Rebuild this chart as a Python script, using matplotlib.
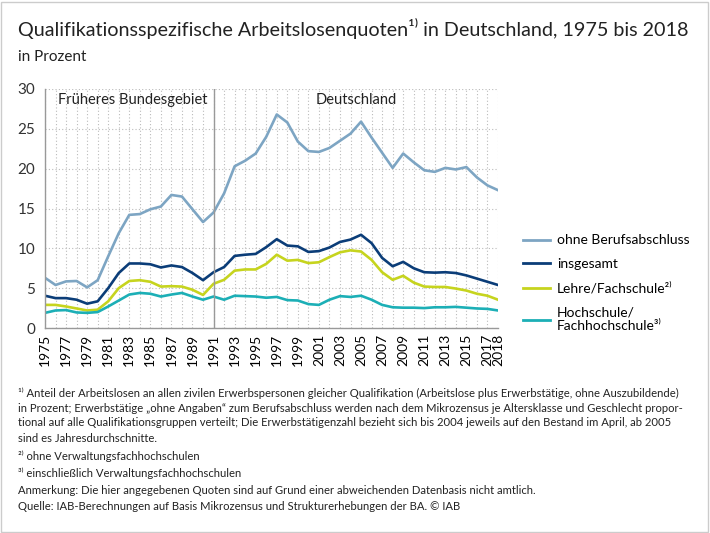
import matplotlib
matplotlib.use("Agg")
import matplotlib.pyplot as plt
from matplotlib.patches import Rectangle

years = list(range(1975, 2019))

ohne_abschluss = [6.3, 5.4, 5.85, 5.9, 5.1, 6.0, 9.0, 11.9, 14.2, 14.3, 14.9, 15.25,
                  16.7, 16.5, 14.9, 13.3, 14.5, 16.9, 20.3, 21.0, 21.9, 24.0, 26.8,
                  25.8, 23.4, 22.2, 22.1, 22.6, 23.5, 24.4, 25.9, 23.9, 22.0, 20.1,
                  21.9, 20.8, 19.8, 19.6, 20.1, 19.9, 20.2, 18.9, 17.9, 17.3]
insgesamt = [4.05, 3.75, 3.75, 3.55, 3.05, 3.35, 5.0, 6.9, 8.1, 8.1, 8.0, 7.6,
             7.85, 7.65, 6.9, 6.0, 7.0, 7.65, 9.05, 9.2, 9.3, 10.15, 11.15,
             10.35, 10.25, 9.55, 9.65, 10.1, 10.8, 11.1, 11.7, 10.65, 8.8, 7.75,
             8.3, 7.5, 7.0, 6.95, 7.0, 6.9, 6.6, 6.2, 5.8, 5.4]
lehre = [2.9, 2.9, 2.7, 2.45, 2.2, 2.3, 3.35, 5.0, 5.9, 6.0, 5.8, 5.2,
         5.25, 5.2, 4.8, 4.15, 5.55, 6.05, 7.2, 7.35, 7.35, 8.05, 9.2,
         8.45, 8.55, 8.15, 8.25, 8.9, 9.5, 9.75, 9.6, 8.55, 7.0, 6.05,
         6.55, 5.7, 5.2, 5.15, 5.15, 4.95, 4.7, 4.3, 4.05, 3.55]
hochschule = [1.9, 2.2, 2.25, 1.95, 1.9, 2.0, 2.7, 3.45, 4.2, 4.4, 4.3, 3.95,
              4.2, 4.4, 3.95, 3.55, 3.95, 3.55, 4.05, 4.0, 3.95, 3.8, 3.9,
              3.5, 3.45, 3.0, 2.9, 3.55, 4.0, 3.9, 4.05, 3.55, 2.9, 2.6,
              2.55, 2.55, 2.5, 2.6, 2.6, 2.65, 2.55, 2.45, 2.4, 2.2]

series_labels = ["ohne Berufsabschluss", "insgesamt", "Lehre/Fachschule²⁾",
                 "Hochschule/\nFachhochschule³⁾"]
series_colors = ["#7DA5C3", "#0B3D78", "#C6D41E", "#1CAFB6"]

xtick_years = list(range(1975, 2018, 2)) + [2018]

title = "Qualifikationsspezifische Arbeitslosenquoten¹⁾ in Deutschland, 1975 bis 2018"
subtitle = "in Prozent"
footnote_lines = [
    ("¹⁾ Anteil der Arbeitslosen an allen zivilen Erwerbspersonen gleicher Qualifikation "
     "(Arbeitslose plus Erwerbstätige, ohne Auszubildende)"),
    ("in Prozent; Erwerbstätige „ohne Angaben“ zum Berufsabschluss werden nach dem Mikrozensus "
     "je Altersklasse und Geschlecht propor-"),
    ("tional auf alle Qualifikationsgruppen verteilt; Die Erwerbstätigenzahl bezieht sich bis "
     "2004 jeweils auf den Bestand im April, ab 2005"),
    "sind es Jahresdurchschnitte.",
    "²⁾ ohne Verwaltungsfachhochschulen",
    "³⁾ einschließlich Verwaltungsfachhochschulen",
    "Anmerkung: Die hier angegebenen Quoten sind auf Grund einer abweichenden Datenbasis nicht amtlich.",
    "Quelle: IAB-Berechnungen auf Basis Mikrozensus und Strukturerhebungen der BA. © IAB",
]

plt.rcParams["font.family"] = ["Lato", "DejaVu Sans"]

W, H = 710, 533
fig = plt.figure(figsize=(7.1, 5.33), dpi=100)
fig.patches.append(Rectangle((1 / W, 1 / H), 1 - 3 / W, 1 - 3 / H, transform=fig.transFigure,
                             fill=False, edgecolor="#CCCCCC", linewidth=1))

ax = fig.add_axes([45 / W, 1 - 328 / H, 453 / W, 239 / H])

all_series = [ohne_abschluss, insgesamt, lehre, hochschule]
for values, label, color in zip(all_series, series_labels, series_colors):
    ax.plot(years, values, color=color, linewidth=1.9, label=label, solid_joinstyle="round")

ax.set_xlim(1975, 2018)
ax.set_ylim(0, 30)
ax.set_yticks(range(0, 31, 5))
ax.set_xticks(xtick_years)
ax.set_xticks(years, minor=True)
ax.set_xticklabels([str(y) for y in xtick_years], rotation=90, fontsize=10)
ax.tick_params(axis="y", labelsize=11, length=0, pad=7)
ax.tick_params(axis="x", length=0, pad=4)
ax.tick_params(axis="x", which="minor", length=0)
for lbl in ax.get_yticklabels():
    lbl.set_color("#333333")
ax.grid(True, which="both", axis="x", linestyle=(0, (1, 2)), color="#BBBBBB", linewidth=0.8)
ax.grid(True, which="major", axis="y", linestyle=(0, (1, 2)), color="#BBBBBB", linewidth=0.8)
ax.set_axisbelow(True)
for side in ["top", "right"]:
    ax.spines[side].set_visible(False)
for side in ["left", "bottom"]:
    ax.spines[side].set_color("#999999")
    ax.spines[side].set_linewidth(1)
ax.axvline(1991, color="#999999", linewidth=1)

ax.text(1983.3, 28.6, "Früheres Bundesgebiet", ha="center", va="center", fontsize=10.5, color="#222222")
ax.text(2004.5, 28.6, "Deutschland", ha="center", va="center", fontsize=10.5, color="#222222")

leg = fig.legend(loc="upper left", bbox_to_anchor=(510 / W, 1 - 222 / H), frameon=False,
                 fontsize=10, handlelength=2.0, handletextpad=0.5, labelspacing=0.85)
for line in leg.get_lines():
    line.set_linewidth(2)

fig.text(18 / W, 1 - 28 / H, title, fontsize=14.2, va="center", ha="left", color="#222222")
fig.text(18 / W, 1 - 57 / H, subtitle, fontsize=11, va="center", ha="left", color="#222222")

line_y = [393, 408, 423, 438, 456, 473, 490, 507]
for note, y in zip(footnote_lines, line_y):
    fig.text(18 / W, 1 - y / H, note, fontsize=8.1, va="center", ha="left", color="#222222")

fig.savefig("out.png", dpi=100)
